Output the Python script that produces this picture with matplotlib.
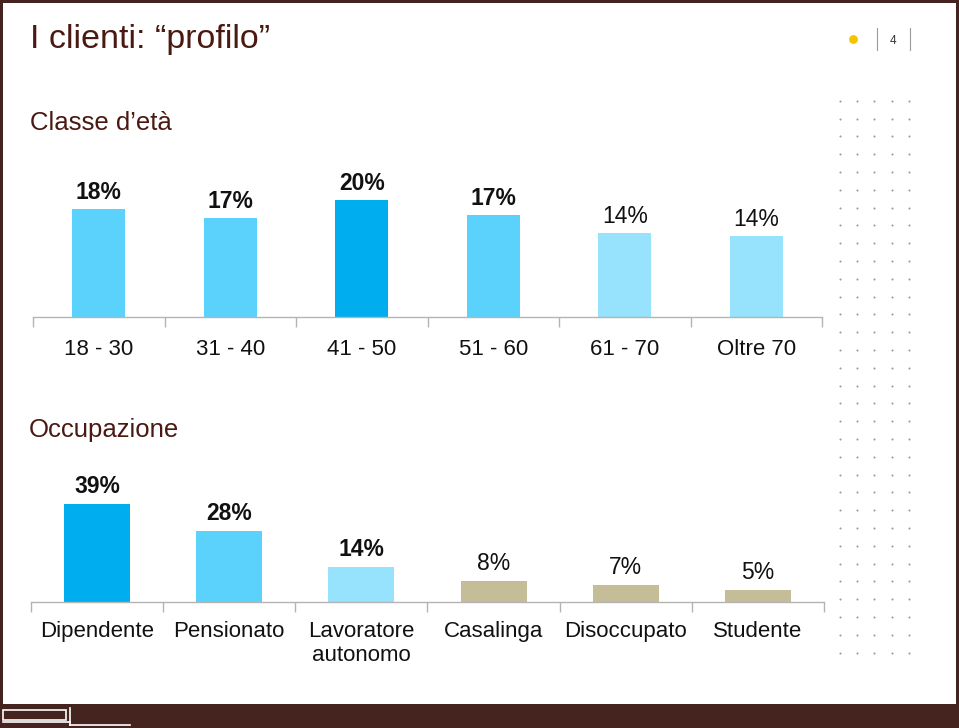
import matplotlib
matplotlib.use('Agg')
import matplotlib.pyplot as plt
import numpy as np
from matplotlib.patches import Rectangle

plt.rcParams['font.family'] = ['Liberation Sans', 'DejaVu Sans']

# ---------------- data ----------------
age_labels = ['18 - 30', '31 - 40', '41 - 50', '51 - 60', '61 - 70', 'Oltre 70']
age_values = [18.4, 16.9, 20.0, 17.4, 14.3, 13.8]
age_text = ['18%', '17%', '20%', '17%', '14%', '14%']
age_bold = [True, True, True, True, False, False]

job_labels = ['Dipendente', 'Pensionato', 'Lavoratore\nautonomo', 'Casalinga', 'Disoccupato', 'Studente']
job_values = [39.0, 27.9, 13.7, 8.2, 6.6, 4.7]
job_text = ['39%', '28%', '14%', '8%', '7%', '5%']
job_bold = [True, True, True, False, False, False]

DARK = '#00AEEF'
MED = '#5BD2FB'
LIGHT = '#97E2FC'
KHAKI = '#C4BD97'
age_colors = [MED, MED, DARK, MED, LIGHT, LIGHT]
job_colors = [DARK, MED, LIGHT, KHAKI, KHAKI, KHAKI]

BROWN = '#45231F'
TITLE_C = '#4A1A12'
AXIS_C = '#B4B4B4'

W, H = 959, 728
fig = plt.figure(figsize=(W / 100, H / 100), dpi=100)

# overlay for decorations (pixel coordinates)
ov = fig.add_axes([0, 0, 1, 1])
ov.set_xlim(0, W)
ov.set_ylim(H, 0)
ov.axis('off')
ov.set_zorder(0)

# frame
ov.add_patch(Rectangle((0, 0), W, 2.5, color=BROWN, lw=0))
ov.add_patch(Rectangle((0, 0), 2.5, H, color=BROWN, lw=0))
ov.add_patch(Rectangle((955.5, 0), 3.5, H, color=BROWN, lw=0))
ov.add_patch(Rectangle((0, 704), W, 24, color=BROWN, lw=0))
# small logo in footer
ov.add_patch(Rectangle((3, 709.5), 63, 10, fill=False, ec='white', lw=1.2))
ov.plot([70, 70], [708, 725], color='white', lw=1.2)
ov.plot([3, 70], [722, 722], color='white', lw=1.2)
ov.plot([70, 130], [725, 725], color='white', lw=1.2)

# dot grid
gx, gy = np.meshgrid(np.arange(5) * 17.2 + 840, np.arange(32) * 17.8 + 100.7)
ov.scatter(gx.ravel(), gy.ravel(), s=2.2, color='#9A9A9A', lw=0)

# header
ov.text(30, 48, 'I clienti: \u201cprofilo\u201d', fontsize=24.5, color=TITLE_C, va='baseline', ha='left')
ov.scatter([853], [39], s=40, color='#F5C400', lw=0)
ov.plot([876.5, 876.5], [28, 50], color='#9A9A9A', lw=0.8)
ov.plot([909.5, 909.5], [28, 50], color='#9A9A9A', lw=0.8)
ov.text(893, 43.5, '4', fontsize=8.5, color='#333333', ha='center', va='baseline')

ov.text(30, 130, 'Classe d\u2019et\u00e0', fontsize=18.5, color=TITLE_C, va='baseline', ha='left')
ov.text(28.5, 437, 'Occupazione', fontsize=18.5, color=TITLE_C, va='baseline', ha='left')


def px_axes(x0, y_top, x1, y_bottom):
    return fig.add_axes([x0 / W, 1 - y_bottom / H, (x1 - x0) / W, (y_bottom - y_top) / H])


def bar_panel(ax, labels, values, texts, bold, colors, width, pad, lab_off):
    x = np.arange(len(values))
    ax.bar(x, values, width=width, color=colors, lw=0)
    ax.set_xlim(-0.5, len(values) - 0.5)
    for s in ['top', 'left', 'right']:
        ax.spines[s].set_visible(False)
    ax.spines['bottom'].set_color(AXIS_C)
    ax.spines['bottom'].set_linewidth(1.0)
    ax.set_yticks([])
    ax.set_xticks(np.arange(len(values) + 1) - 0.5)
    ax.set_xticklabels([])
    ax.tick_params(axis='x', which='major', length=7, width=1.0, color=AXIS_C, direction='out')
    ax.set_xticks(x, minor=True)
    ax.set_xticklabels(labels, minor=True, fontsize=16, color='#111111')
    ax.tick_params(axis='x', which='minor', length=0, pad=pad)
    ax.patch.set_alpha(0)
    for xi, v, t, b in zip(x, values, texts, bold):
        ax.annotate(t, (xi, v), xytext=(0, lab_off), textcoords='offset pixels',
                    ha='center', va='baseline', fontsize=16.5,
                    fontweight='bold' if b else 'normal', color='#111111')


ax1 = px_axes(33, 150, 822, 317)
ax1.set_ylim(0, (317 - 150) / 5.85)
bar_panel(ax1, age_labels, age_values, age_text, age_bold, age_colors, 0.4, 15.5, 10)

ax2 = px_axes(31, 460, 824, 601.5)
ax2.set_ylim(0, (601.5 - 460) / 2.51)
bar_panel(ax2, job_labels, job_values, job_text, job_bold, job_colors, 0.5, 14, 11)

fig.savefig('out.png', dpi=100)
